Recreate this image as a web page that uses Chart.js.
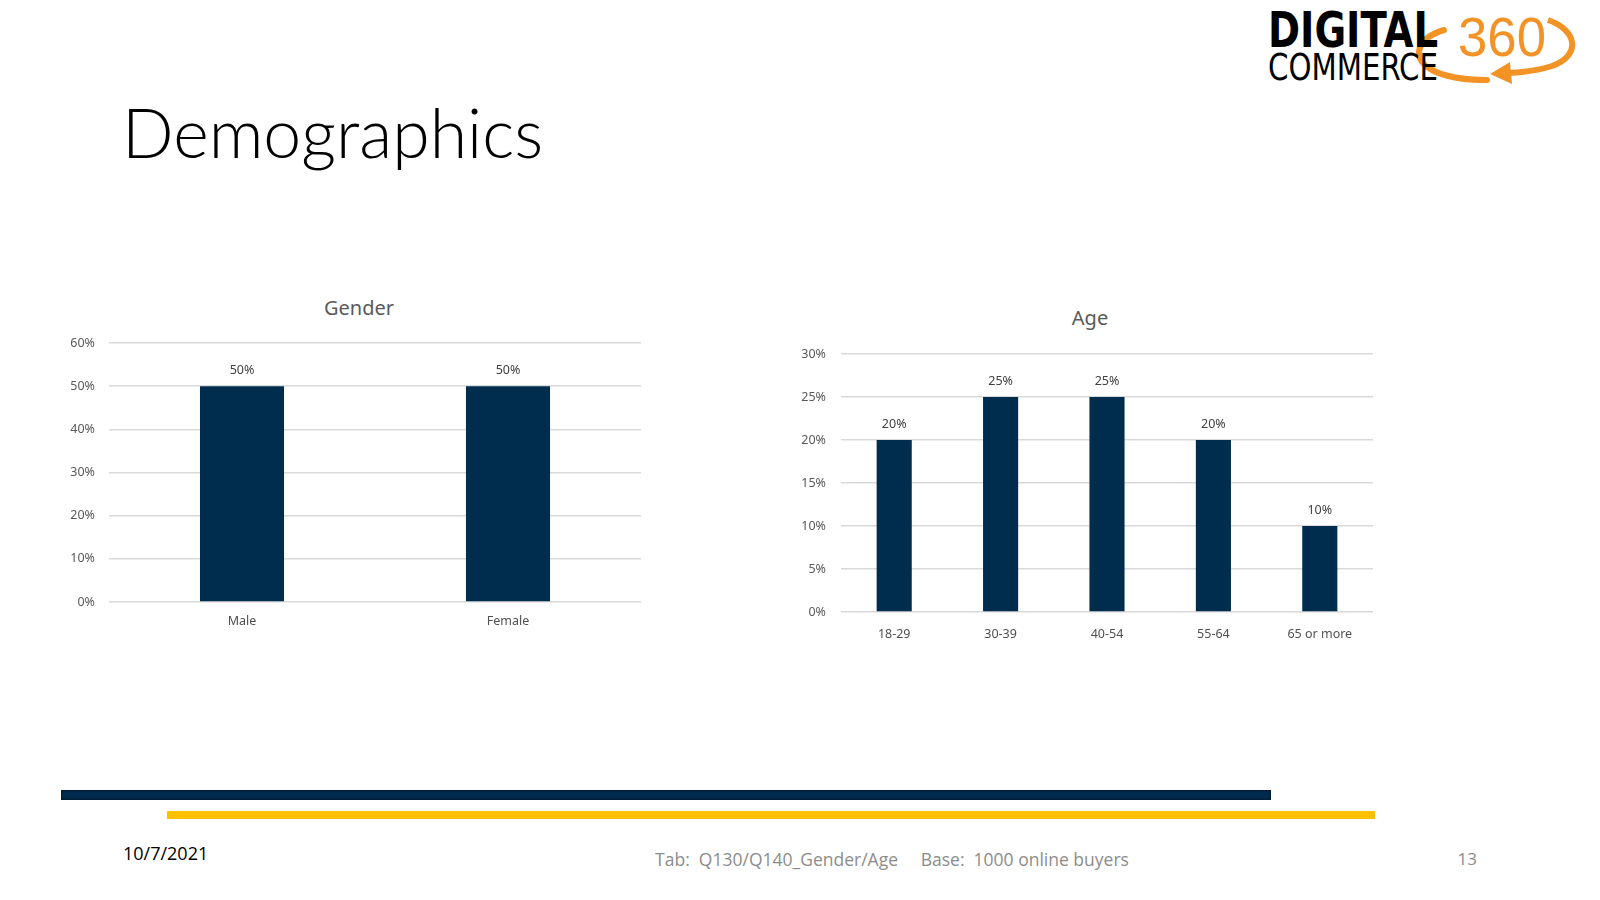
<!DOCTYPE html>
<html>
<head>
<meta charset="utf-8">
<script src="https://cdn.jsdelivr.net/npm/chart.js@4.4.1/dist/chart.umd.min.js"></script>
<style>
    html, body { margin: 0; padding: 0; background: #fff; }
    body { width: 1600px; height: 900px; position: relative; overflow: hidden; font-family: 'Open Sans', sans-serif; }
    .abs { position: absolute; }
    #pageTitle { left: 122px; top: 92px; font-family: Lato, sans-serif; font-weight: 300; font-size: 68px; line-height: 80px; color: #000; }
    .chartTitle { width: 200px; text-align: center; font-family: 'Noto Sans', sans-serif; font-size: 20px; line-height: 24px; color: #595959; }
    #genderTitle { left: 259px; top: 296px; }
    #ageTitle { left: 990px; top: 306px; }
    #genderWrap { left: 45px; top: 285px; width: 630px; height: 360px; }
    #ageWrap { left: 785px; top: 295px; width: 620px; height: 360px; }
    #navyBar { left: 61px; top: 790px; width: 1210px; height: 10px; background: #002B4C; box-shadow: inset 0 0 0 1.5px #001E38; }
    #yellowBar { left: 167px; top: 811px; width: 1208px; height: 8px; background: #FFC000; }
    #date { left: 123px; top: 841px; font-size: 18px; color: #000; }
    #footer { left: 592px; top: 847px; width: 600px; text-align: center; font-size: 17.5px; color: #8C8C8C; white-space: pre; }
    #pageNum { left: 1447px; top: 847px; width: 30px; text-align: right; font-size: 17px; color: #8C8C8C; }
</style>
</head>
<body>

<svg class="abs" style="left:0;top:0" width="1600" height="100" viewBox="0 0 1600 100">
    <g transform="translate(-8,0)">
        <path d="M1452 30 C1425 38 1418 58 1440 70 C1455 78 1475 80 1495 80" fill="none" stroke="#F39325" stroke-width="6" stroke-linecap="round"/>
        <path d="M1556 20 C1585 30 1590 55 1560 66 C1548 70 1535 72 1515 73" fill="none" stroke="#F39325" stroke-width="6"/>
        <path d="M1518 62 L1498 74 L1520 84 Z" fill="#F39325"/>
        <text x="1276" y="47" font-family="'DejaVu Sans Condensed', 'DejaVu Sans', sans-serif" font-weight="bold" font-size="50" textLength="170" lengthAdjust="spacingAndGlyphs" fill="#000">DIGITAL</text>
        <text x="1276" y="80" font-family="'DejaVu Sans Condensed', 'DejaVu Sans', sans-serif" font-size="37" textLength="170" lengthAdjust="spacingAndGlyphs" fill="#000">COMMERCE</text>
        <text x="1466" y="56" font-family="'Liberation Sans', sans-serif" font-size="56" textLength="88" lengthAdjust="spacingAndGlyphs" fill="#F39325">360</text>
    </g>
</svg>

<div id="pageTitle" class="abs">Demographics</div>

<div id="genderTitle" class="abs chartTitle">Gender</div>
<div id="ageTitle" class="abs chartTitle">Age</div>

<div id="genderWrap" class="abs"><canvas id="genderChart"></canvas></div>
<div id="ageWrap" class="abs"><canvas id="ageChart"></canvas></div>

<div id="navyBar" class="abs"></div>
<div id="yellowBar" class="abs"></div>
<div id="date" class="abs">10/7/2021</div>
<div id="footer" class="abs">Tab:  Q130/Q140_Gender/Age     Base:  1000 online buyers</div>
<div id="pageNum" class="abs">13</div>

<script>
// chart data
const genderLabels = ['Male', 'Female'];
const genderValues = [50, 50];

const ageLabels = ['18-29', '30-39', '40-54', '55-64', '65 or more'];
const ageValues = [20, 25, 25, 20, 10];

const barColor = '#002C4D';
const gridColor = '#D9D9D9';
const textColor = '#595959';
const tickFont = { family: "'Noto Sans', sans-serif", size: 12.5 };

// draws the value above every bar
const valueLabels = {
    id: 'valueLabels',
    afterDatasetsDraw(chart) {
        const ctx = chart.ctx;
        const meta = chart.getDatasetMeta(0);
        ctx.save();
        ctx.font = "12.5px 'Noto Sans', sans-serif";
        ctx.fillStyle = '#404040';
        ctx.textAlign = 'center';
        ctx.textBaseline = 'middle';
        meta.data.forEach((bar, i) => {
            ctx.fillText(chart.data.datasets[0].data[i] + '%', bar.x, bar.y - 16);
        });
        ctx.restore();
    }
};

function makeChart(id, labels, values, maxY, step, opts) {
    return new Chart(document.getElementById(id), {
        type: 'bar',
        data: {
            labels: labels,
            datasets: [{
                data: values,
                backgroundColor: barColor,
                barPercentage: 1,
                categoryPercentage: opts.barPct
            }]
        },
        options: {
            responsive: true,
            maintainAspectRatio: false,
            animation: false,
            layout: { padding: { left: 0, right: opts.padRight, top: opts.padTop, bottom: 0 } },
            scales: {
                x: {
                    grid: { display: false, drawTicks: false },
                    border: { display: false },
                    ticks: { color: '#505050', font: tickFont, padding: opts.xPad },
                    afterFit: function(scale) { scale.height = 43; }
                },
                y: {
                    min: 0,
                    max: maxY,
                    grid: { color: gridColor, lineWidth: 1.5, drawTicks: false },
                    border: { display: false },
                    ticks: {
                        stepSize: step,
                        color: textColor,
                        font: tickFont,
                        padding: opts.yPad,
                        callback: function(value) { return value + '%'; }
                    },
                    afterFit: function(scale) { scale.width = opts.yWidth; }
                }
            },
            plugins: {
                legend: { display: false },
                tooltip: { enabled: false },
                title: { display: false }
            }
        },
        plugins: [valueLabels]
    });
}

document.addEventListener('DOMContentLoaded', function() {
    makeChart('genderChart', genderLabels, genderValues, 60, 10,
        { barPct: 0.316, padRight: 34, padTop: 58, yWidth: 64, yPad: 14, xPad: 12 });
    makeChart('ageChart', ageLabels, ageValues, 30, 5,
        { barPct: 0.33, padRight: 32, padTop: 59, yWidth: 56, yPad: 15, xPad: 15 });
});
</script>
</body>
</html>
